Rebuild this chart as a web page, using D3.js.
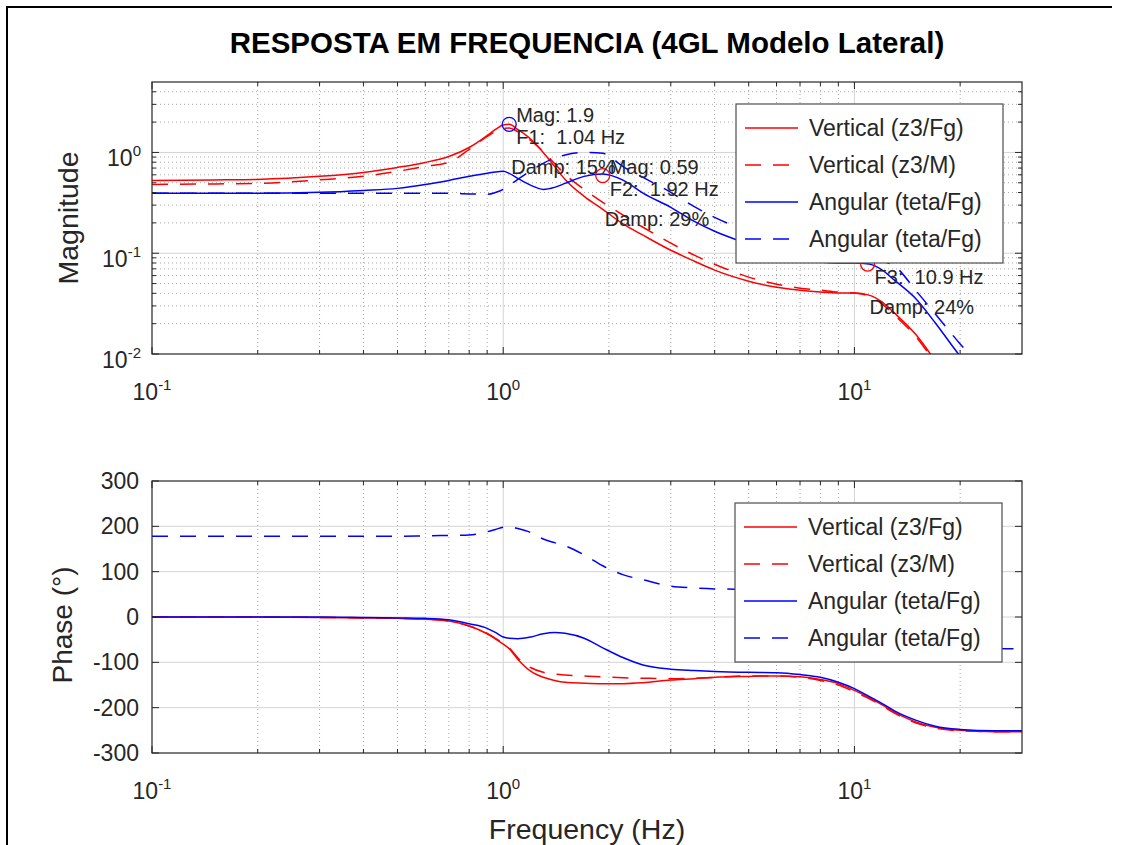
<!DOCTYPE html>
<html>
<head>
<meta charset="utf-8">
<script src="https://cdn.jsdelivr.net/npm/d3@7"></script>
<style>
  body { margin: 0; background: #fff; }
  svg { display: block; }
  text { font-family: "Liberation Sans", Arial, Helvetica, sans-serif; fill: #262626; white-space: pre; }
</style>
</head>
<body>
<svg id="chart" width="1124" height="845"></svg>
<script>
// ---- Frequency response data (4-DOF lateral model) ----
const freqHz = [0.1, 0.15, 0.2, 0.3, 0.4, 0.5, 0.6, 0.7, 0.8, 0.9, 0.95, 1.0, 1.04, 1.1, 1.2, 1.3, 1.4, 1.5, 1.7, 1.92,
                2.2, 2.5, 3, 3.5, 4, 5, 6, 7, 8, 9, 10, 11, 12, 13, 15, 17, 20, 25, 30];

// Magnitude
const magVertFg = [0.528, 0.534, 0.540, 0.579, 0.634, 0.710, 0.796, 0.913, 1.12, 1.47, 1.69, 1.87, 1.90, 1.69, 1.345, 1.0, 0.727, 0.540, 0.367, 0.273,
                   0.194, 0.151, 0.107, 0.0833, 0.0679, 0.0528, 0.0460, 0.0430, 0.0412, 0.0402, 0.0402, 0.0384, 0.0327, 0.0255, 0.0154, 0.0085, 0.0036, 0.0012, 0.0005];
const magVertM  = [0.482, 0.487, 0.493, 0.535, 0.579, 0.649, 0.727, 0.796, 1.07, 1.44, 1.61, 1.73, 1.75, 1.61, 1.31, 1.02, 0.778, 0.606, 0.430, 0.320,
                   0.238, 0.181, 0.126, 0.0956, 0.0778, 0.0579, 0.0493, 0.0450, 0.0430, 0.0412, 0.0402, 0.0375, 0.0313, 0.0243, 0.0147, 0.0081, 0.0034, 0.0012, 0.0005];
const magAngFg  = [0.393, 0.393, 0.393, 0.402, 0.420, 0.440, 0.480, 0.528, 0.580, 0.620, 0.640, 0.649, 0.620, 0.553, 0.471, 0.430, 0.450, 0.493, 0.579, 0.612,
                   0.528, 0.395, 0.285, 0.207, 0.165, 0.123, 0.098, 0.0875, 0.0816, 0.0798, 0.0798, 0.078, 0.068, 0.054, 0.035, 0.0203, 0.0095, 0.0040, 0.0020];
const magAngM   = [0.393, 0.393, 0.393, 0.393, 0.393, 0.393, 0.393, 0.393, 0.388, 0.384, 0.40, 0.43, 0.47, 0.54, 0.66, 0.78, 0.88, 0.945, 1.0, 0.98,
                   0.72, 0.565, 0.402, 0.29, 0.227, 0.165, 0.138, 0.120, 0.110, 0.1025, 0.0956, 0.089, 0.0834, 0.0745, 0.0421, 0.0249, 0.0126, 0.0056, 0.0029];

// Phase (degrees)
const phVertFg = [0, 0, 0, -1, -2, -3, -5, -9, -20, -37, -48, -60, -70, -93, -120, -133, -140, -144, -146, -147,
                  -147, -145, -139, -136, -133, -131, -130, -132, -138, -147, -162, -178, -194, -210, -232, -243, -250, -253, -253];
const phVertM  = [0, 0, 0, -1, -2, -3, -5, -9, -20, -36, -47, -58, -68, -90, -112, -122, -126, -128, -130, -132,
                  -134, -135, -136, -135, -133, -130, -130, -133, -140, -150, -165, -180, -196, -212, -234, -245, -251, -253, -253];
const phAngFg  = [0, 0, 0, 0, -1, -2, -3, -6, -15, -25, -34, -44, -47, -48, -44, -37, -34, -36, -47, -68,
                  -90, -106, -115, -118, -120, -122, -123, -127, -133, -144, -158, -175, -191, -207, -228, -241, -248, -251, -251];
const phAngM   = [178, 178, 178, 178, 178, 178, 179, 180, 181, 188, 193, 198, 199, 195, 186, 172, 164, 157, 137, 113,
                  93, 82, 68, 64, 62, 61, 59, 52, 42, 30, 15, 0, -15, -28, -45, -56, -64, -69, -70];

const seriesNames  = ["Vertical (z3/Fg)", "Vertical (z3/M)", "Angular (teta/Fg)", "Angular (teta/Fg)"];
const seriesColors = ["#ff0000", "#ff0000", "#0000ff", "#0000ff"];
const seriesDashed = [false, true, false, true];

// Identified modes (peak markers)
const modeFreq   = [1.04, 1.92, 10.9];
const modeMag    = [1.9, 0.59, 0.078];
const modeDamp   = [15, 29, 24];
const modeColor  = ["#0000ff", "#ff0000", "#ff0000"];
const modeShowMag = [true, true, false];

// Tick labels
const xDecades = [0.1, 1, 10];
const xDecadeExp = ["-1", "0", "1"];
const magDecades = [0.01, 0.1, 1];
const magDecadeExp = ["-2", "-1", "0"];
const phaseTicks = [-300, -200, -100, 0, 100, 200, 300];

const titleText = "RESPOSTA EM FREQUENCIA (4GL Modelo Lateral)";

// ---- Layout ----
const svg = d3.select("#chart");
svg.append("rect").attr("width", 1124).attr("height", 845).attr("fill", "#fff");

const L = 152, R = 1022;
const magTop = 82, magBot = 354;
const phTop = 481, phBot = 753;

const x = d3.scaleLog().domain([0.1, 30]).range([L, R]);
const yMag = d3.scaleLog().domain([0.01, 5]).range([magBot, magTop]);
const yPh = d3.scaleLinear().domain([-300, 300]).range([phBot, phTop]);

// minor log positions
function logMinors(lo, hi) {
  const out = [];
  for (let d = lo; d < hi * 1.0001; d *= 10) {
    for (let k = 2; k <= 9; k++) { const v = d * k; if (v <= hi * 1.0001) out.push(v); }
  }
  return out;
}
const xMinor = logMinors(0.1, 30).filter(v => v < 29.9);
const magMinor = logMinors(0.01, 5).filter(v => v < 4.99);

// frame
svg.append("path").attr("d", "M7,845 L7,7 L1112,7").attr("fill", "none").attr("stroke", "#000").attr("stroke-width", 2);

// title
svg.append("text").attr("x", (L + R) / 2).attr("y", 53).attr("text-anchor", "middle")
  .style("font-weight", "bold").style("font-size", "29.5px").style("fill", "#000").text(titleText);

const dotted = { stroke: "#a8a8a8", dash: "1,3", width: 1 };
const major = { stroke: "#d4d4d4", width: 1 };

function vline(g, xv, y0, y1, st) {
  g.append("line").attr("x1", x(xv)).attr("x2", x(xv)).attr("y1", y0).attr("y2", y1)
    .attr("stroke", st.stroke).attr("stroke-width", st.width).attr("stroke-dasharray", st.dash || null);
}
function hline(g, yp, st) {
  g.append("line").attr("x1", L).attr("x2", R).attr("y1", yp).attr("y2", yp)
    .attr("stroke", st.stroke).attr("stroke-width", st.width).attr("stroke-dasharray", st.dash || null);
}

function powLabel(g, px, py, exp, anchor) {
  const t = g.append("text").attr("x", px).attr("y", py).attr("text-anchor", anchor).style("font-size", "23px");
  t.append("tspan").text("10");
  t.append("tspan").attr("dy", -10).style("font-size", "15px").text(exp);
}

function xTicks(g, top, bot) {
  const all = xDecades.map(v => ({ v, big: true })).concat(xMinor.map(v => ({ v, big: false })));
  all.forEach(t => {
    const len = t.big ? 7 : 4;
    g.append("line").attr("x1", x(t.v)).attr("x2", x(t.v)).attr("y1", bot).attr("y2", bot - len).attr("stroke", "#262626");
    g.append("line").attr("x1", x(t.v)).attr("x2", x(t.v)).attr("y1", top).attr("y2", top + len).attr("stroke", "#262626");
  });
  xDecades.forEach((v, i) => powLabel(g, x(v), bot + 46, xDecadeExp[i], "middle"));
}

const lineGen = (yScale, vals) => d3.line()
  .x((d, i) => x(freqHz[i]))
  .y((d, i) => yScale(vals[i]))
  .curve(d3.curveMonotoneX)(vals);

function drawLegend(g, lx, ly) {
  const w = 267, h = 159;
  g.append("rect").attr("x", lx).attr("y", ly).attr("width", w).attr("height", h)
    .attr("fill", "#fff").attr("stroke", "#4d4d4d").attr("stroke-width", 1.2);
  seriesNames.forEach((name, i) => {
    const cy = ly + 24 + i * 37;
    g.append("line").attr("x1", lx + 9).attr("x2", lx + 62).attr("y1", cy).attr("y2", cy)
      .attr("stroke", seriesColors[i]).attr("stroke-width", 1.5)
      .attr("stroke-dasharray", seriesDashed[i] ? "16,12" : null);
    g.append("text").attr("x", lx + 73).attr("y", cy + 8).style("font-size", "23px").text(name);
  });
}

// ================= Magnitude panel =================
const gm = svg.append("g");
svg.append("clipPath").attr("id", "clipMag").append("rect").attr("x", L).attr("y", magTop).attr("width", R - L).attr("height", magBot - magTop);
svg.append("clipPath").attr("id", "clipPh").append("rect").attr("x", L).attr("y", phTop).attr("width", R - L).attr("height", phBot - phTop);

xMinor.forEach(v => vline(gm, v, magTop, magBot, dotted));
magMinor.forEach(v => hline(gm, yMag(v), dotted));
[1, 10].forEach(v => vline(gm, v, magTop, magBot, major));
[0.1, 1].forEach(v => hline(gm, yMag(v), major));

const magSeries = [magVertFg, magVertM, magAngFg, magAngM];
const gmLines = gm.append("g").attr("clip-path", "url(#clipMag)");
magSeries.forEach((vals, i) => {
  gmLines.append("path").attr("d", lineGen(yMag, vals)).attr("fill", "none")
    .attr("stroke", seriesColors[i]).attr("stroke-width", 1.5)
    .attr("stroke-dasharray", seriesDashed[i] ? "16,12" : null);
});

// mode markers and annotations
modeFreq.forEach((f, i) => {
  const cx = x(f), cy = yMag(modeMag[i]);
  gmLines.append("circle").attr("cx", cx).attr("cy", cy).attr("r", 7)
    .attr("fill", "none").attr("stroke", modeColor[i]).attr("stroke-width", 1.3);
  if (modeShowMag[i]) gm.append("text").attr("x", cx + 7).attr("y", cy - 2).style("font-size", "20px").text("Mag: " + modeMag[i]);
  gm.append("text").attr("x", cx + 7).attr("y", cy + 20).style("font-size", "20px").text("F" + (i + 1) + ":  " + f + " Hz");
  gm.append("text").attr("x", cx + 2).attr("y", cy + 50).style("font-size", "20px").text("Damp: " + modeDamp[i] + "%");
});

// box and ticks
gm.append("rect").attr("x", L).attr("y", magTop).attr("width", R - L).attr("height", magBot - magTop)
  .attr("fill", "none").attr("stroke", "#262626").attr("stroke-width", 1.2);
xTicks(gm, magTop, magBot);
magDecades.map(v => ({ v, big: true })).concat(magMinor.map(v => ({ v, big: false }))).forEach(t => {
  const len = t.big ? 7 : 4;
  gm.append("line").attr("x1", L).attr("x2", L + len).attr("y1", yMag(t.v)).attr("y2", yMag(t.v)).attr("stroke", "#262626");
  gm.append("line").attr("x1", R).attr("x2", R - len).attr("y1", yMag(t.v)).attr("y2", yMag(t.v)).attr("stroke", "#262626");
});
magDecades.forEach((v, i) => powLabel(gm, 141, yMag(v) + 14, magDecadeExp[i], "end"));
gm.append("text").attr("transform", `translate(78,${(magTop + magBot) / 2}) rotate(-90)`)
  .attr("text-anchor", "middle").style("font-size", "28.5px").text("Magnitude");

drawLegend(gm, 736, 104);

// ================= Phase panel =================
const gp = svg.append("g");
xMinor.forEach(v => vline(gp, v, phTop, phBot, dotted));
[1, 10].forEach(v => vline(gp, v, phTop, phBot, major));
phaseTicks.slice(1, -1).forEach(v => hline(gp, yPh(v), major));

const phSeries = [phVertFg, phVertM, phAngFg, phAngM];
const gpLines = gp.append("g").attr("clip-path", "url(#clipPh)");
phSeries.forEach((vals, i) => {
  gpLines.append("path").attr("d", lineGen(yPh, vals)).attr("fill", "none")
    .attr("stroke", seriesColors[i]).attr("stroke-width", 1.5)
    .attr("stroke-dasharray", seriesDashed[i] ? "16,12" : null);
});

gp.append("rect").attr("x", L).attr("y", phTop).attr("width", R - L).attr("height", phBot - phTop)
  .attr("fill", "none").attr("stroke", "#262626").attr("stroke-width", 1.2);
xTicks(gp, phTop, phBot);
phaseTicks.forEach(v => {
  gp.append("line").attr("x1", L).attr("x2", L + 7).attr("y1", yPh(v)).attr("y2", yPh(v)).attr("stroke", "#262626");
  gp.append("line").attr("x1", R).attr("x2", R - 7).attr("y1", yPh(v)).attr("y2", yPh(v)).attr("stroke", "#262626");
  gp.append("text").attr("x", 139).attr("y", yPh(v) + 8).attr("text-anchor", "end").style("font-size", "23px").text(v);
});
gp.append("text").attr("transform", `translate(72,${(phTop + phBot) / 2 + 8}) rotate(-90)`)
  .attr("text-anchor", "middle").style("font-size", "28px").text("Phase (°)");
gp.append("text").attr("x", (L + R) / 2).attr("y", 839).attr("text-anchor", "middle")
  .style("font-size", "28.5px").text("Frequency (Hz)");

drawLegend(gp, 735, 503);
</script>
</body>
</html>
